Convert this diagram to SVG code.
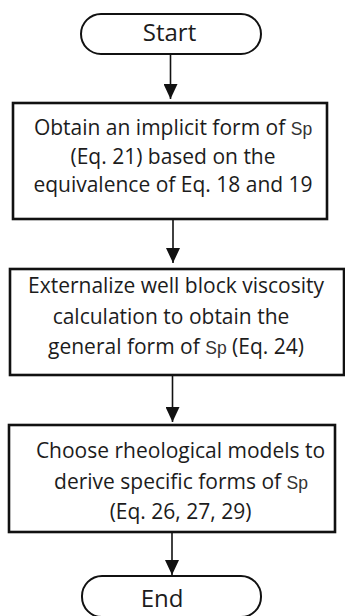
<svg xmlns="http://www.w3.org/2000/svg" width="345" height="616" viewBox="0 0 345 616">
<style>
.term{fill:#fff;stroke:#111;stroke-width:2}
.box{fill:#fff;stroke:#111;stroke-width:2.6}
.t{font-family:"Open Sans","Liberation Sans",sans-serif;font-size:21px;fill:#1c1c1c;text-anchor:middle}
.tt{font-family:"Open Sans","Liberation Sans",sans-serif;font-size:24px;fill:#1c1c1c;text-anchor:middle}
.sp{font-family:"Liberation Sans","DejaVu Sans",sans-serif;font-size:17.5px;fill:#333}
.con{stroke:#111;stroke-width:1.6;fill:none;marker-end:url(#ah)}
</style>
<defs>
<marker id="ah" viewBox="0 0 15 14" refX="15" refY="7" markerWidth="15" markerHeight="14" markerUnits="userSpaceOnUse" orient="auto">
<path d="M0,0 L15,7 L0,14 z" fill="#111"/>
</marker>
</defs>
<rect width="345" height="616" fill="#fff"/>
<g id="connectors">
<line class="con" x1="170.5" y1="54" x2="170.5" y2="99"/>
<line class="con" x1="173" y1="219" x2="173" y2="263"/>
<line class="con" x1="172.5" y1="375" x2="172.5" y2="422"/>
<line class="con" x1="172" y1="532" x2="172" y2="575"/>
</g>
<g id="start">
<rect class="term" x="81" y="14" width="180" height="40" rx="20"/>
<text class="tt" x="169.5" y="41">Start</text>
</g>
<g id="step1">
<rect class="box" x="13" y="103" width="314" height="116"/>
<text class="t" x="173" y="135">Obtain an implicit form of <tspan class="sp">Sp</tspan></text>
<text class="t" x="173" y="163.5">(Eq. 21) based on the</text>
<text class="t" x="173" y="192">equivalence of Eq. 18 and 19</text>
</g>
<g id="step2">
<rect class="box" x="10" y="269" width="334" height="106"/>
<text class="t" x="176" y="293">Externalize well block viscosity</text>
<text class="t" x="171" y="323.5">calculation to obtain the</text>
<text class="t" x="176" y="353.5">general form of <tspan class="sp">Sp</tspan> (Eq. 24)</text>
</g>
<g id="step3">
<rect class="box" x="9" y="425" width="326" height="107"/>
<text class="t" x="180.5" y="457.5">Choose rheological models to</text>
<text class="t" x="181" y="489">derive specific forms of <tspan class="sp">Sp</tspan></text>
<text class="t" x="180.5" y="518.5">(Eq. 26, 27, 29)</text>
</g>
<g id="end">
<rect class="term" x="82" y="576" width="179" height="41" rx="20"/>
<text class="tt" x="162" y="607">End</text>
</g>
</svg>
